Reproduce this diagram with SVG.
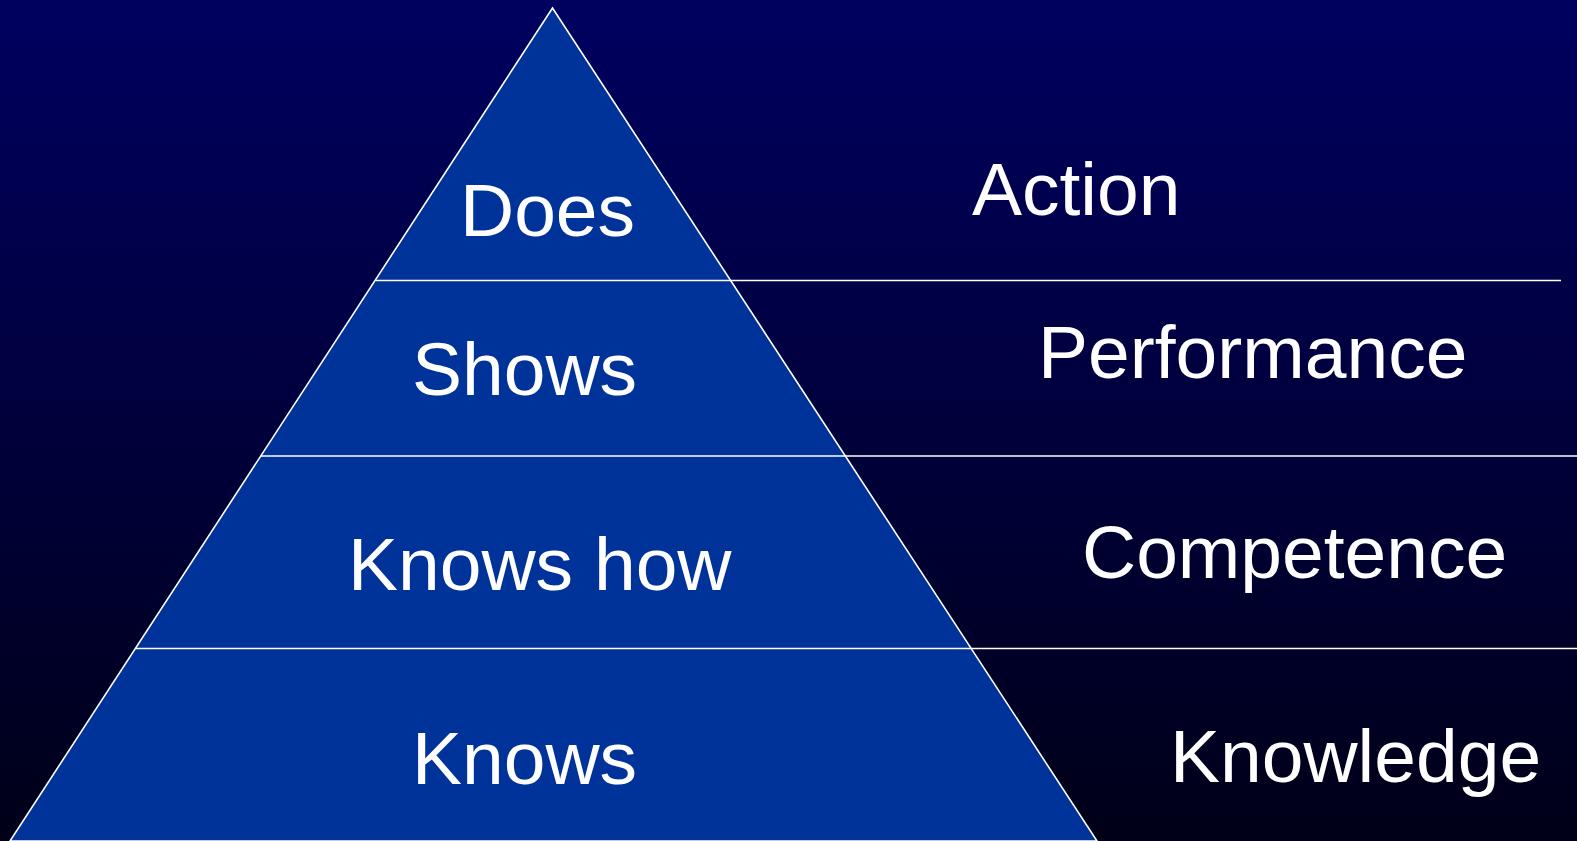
<svg xmlns="http://www.w3.org/2000/svg" width="1577" height="841" viewBox="0 0 1577 841">
  <defs>
    <linearGradient id="bg" x1="0" y1="0" x2="0" y2="1">
      <stop offset="0" stop-color="#000060"/>
      <stop offset="1" stop-color="#000018"/>
    </linearGradient>
    <style>
      .lbl { font-family: "Liberation Sans", Arial, sans-serif; font-size: 75px; fill: #ffffff; }
      .ln { stroke: #ffffff; stroke-width: 1.6; fill: none; }
    </style>
  </defs>
  <rect x="0" y="0" width="1577" height="841" fill="url(#bg)"/>
  <g id="pyramid">
    <polygon points="552.5,8 10,841 1097,841" fill="#003399" stroke="#ffffff" stroke-width="1.6" stroke-linejoin="miter"/>
  </g>
  <g id="connectors">
    <line class="ln" x1="376" y1="280.5" x2="1561" y2="280.5"/>
    <line class="ln" x1="261" y1="456" x2="1577" y2="456"/>
    <line class="ln" x1="136" y1="648.5" x2="1577" y2="648.5"/>
  </g>
  <g id="level-does"><text class="lbl" x="460" y="236">Does</text></g>
  <g id="level-shows"><text class="lbl" x="412" y="395">Shows</text></g>
  <g id="level-knowshow"><text class="lbl" x="348" y="590">Knows how</text></g>
  <g id="level-knows"><text class="lbl" x="412" y="784">Knows</text></g>
  <g id="label-action"><text class="lbl" x="972" y="215">Action</text></g>
  <g id="label-performance"><text class="lbl" x="1038" y="378">Performance</text></g>
  <g id="label-competence"><text class="lbl" x="1082" y="578">Competence</text></g>
  <g id="label-knowledge"><text class="lbl" x="1170" y="782">Knowledge</text></g>
</svg>
